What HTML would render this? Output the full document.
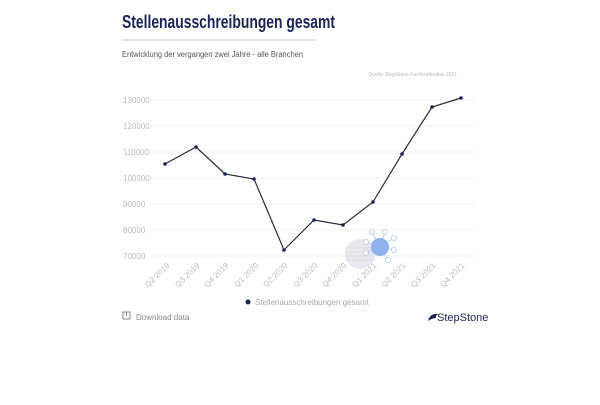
<!DOCTYPE html>
<html><head><style>
body{margin:0;background:#fff;width:600px;height:400px;overflow:hidden;font-family:"Liberation Sans",sans-serif;}
</style></head><body>
<svg width="600" height="400" xmlns="http://www.w3.org/2000/svg" font-family="Liberation Sans, sans-serif">
<text x="122" y="28" font-size="18" font-weight="bold" fill="#1c2457" textLength="213" lengthAdjust="spacingAndGlyphs">Stellenausschreibungen gesamt</text>
<line x1="122" y1="40" x2="315" y2="40" stroke="#aab3cf" stroke-width="0.8"/>
<text x="122" y="57" font-size="8" fill="#555" textLength="181" lengthAdjust="spacingAndGlyphs">Entwicklung der vergangen zwei Jahre - alle Branchen</text>
<text x="457" y="76" font-size="5" fill="#bbb" text-anchor="end">Quelle: StepStone Fachkräfteatlas 2021</text>
<g stroke="#f2f2f2" stroke-width="1">
<line x1="150" y1="100" x2="475" y2="100"/><line x1="150" y1="126" x2="475" y2="126"/>
<line x1="150" y1="152" x2="475" y2="152"/><line x1="150" y1="178" x2="475" y2="178"/>
<line x1="150" y1="204" x2="475" y2="204"/><line x1="150" y1="230" x2="475" y2="230"/>
<line x1="150" y1="256" x2="475" y2="256"/>
</g>
<g font-size="8" fill="#bbb">
<text x="123" y="103">130000</text><text x="123" y="129">120000</text><text x="123" y="155">110000</text>
<text x="123" y="181">100000</text><text x="123" y="207">90000</text><text x="123" y="233">80000</text><text x="123" y="259">70000</text>
</g>
<g>
<circle cx="360" cy="254" r="15" fill="#e8e8ee"/>
<g stroke="#ccd" stroke-width="0.6"><line x1="345" y1="248" x2="375" y2="248"/><line x1="345" y1="252" x2="375" y2="252"/><line x1="345" y1="256" x2="375" y2="256"/><line x1="345" y1="260" x2="375" y2="260"/></g>
<g stroke="#bcd0f0" stroke-width="1" fill="#fff">
<line x1="380" y1="247" x2="372" y2="232"/><circle cx="372" cy="232" r="2.5"/>
<line x1="380" y1="247" x2="385" y2="232"/><circle cx="385" cy="232" r="2.5"/>
<line x1="380" y1="247" x2="394" y2="238"/><circle cx="394" cy="238" r="2.5"/>
<line x1="380" y1="247" x2="394" y2="250"/><circle cx="394" cy="250" r="2.5"/>
<line x1="380" y1="247" x2="388" y2="260"/><circle cx="388" cy="260" r="2.5"/>
<line x1="380" y1="247" x2="366" y2="252"/><circle cx="366" cy="253" r="2.5"/>
<line x1="380" y1="247" x2="366" y2="242"/><circle cx="366" cy="242" r="2.5"/>
</g>
<circle cx="380" cy="247" r="9" fill="#8fb2ef"/>
</g>
<polyline fill="none" stroke="#2a2a3a" stroke-width="1.2" points="165,164 196,147 225,174 254,179 284,250 314,220 343,225 373,202 402,154 432,107 461,98"/>
<g fill="#1c2457">
<circle cx="165" cy="164" r="1.8"/><circle cx="196" cy="147" r="1.8"/><circle cx="225" cy="174" r="1.8"/><circle cx="254" cy="179" r="1.8"/><circle cx="284" cy="250" r="1.8"/><circle cx="314" cy="220" r="1.8"/><circle cx="343" cy="225" r="1.8"/><circle cx="373" cy="202" r="1.8"/><circle cx="402" cy="154" r="1.8"/><circle cx="432" cy="107" r="1.8"/><circle cx="461" cy="98" r="1.8"/>
</g>
<g font-size="8" fill="#bbb" text-anchor="end">
<text transform="translate(170,266) rotate(-45)">Q2 2019</text>
<text transform="translate(200,266) rotate(-45)">Q3 2019</text>
<text transform="translate(229,266) rotate(-45)">Q4 2019</text>
<text transform="translate(259,266) rotate(-45)">Q1 2020</text>
<text transform="translate(288,266) rotate(-45)">Q2 2020</text>
<text transform="translate(318,266) rotate(-45)">Q3 2020</text>
<text transform="translate(347,266) rotate(-45)">Q4 2020</text>
<text transform="translate(377,266) rotate(-45)">Q1 2021</text>
<text transform="translate(406,266) rotate(-45)">Q2 2021</text>
<text transform="translate(436,266) rotate(-45)">Q3 2021</text>
<text transform="translate(465,266) rotate(-45)">Q4 2021</text>
</g>
<circle cx="248" cy="302" r="2.5" fill="#1c2457"/>
<text x="255" y="305" font-size="8" fill="#aaa">Stellenausschreibungen gesamt</text>
<rect x="123" y="312" width="7" height="7" fill="none" stroke="#888" stroke-width="1"/>
<line x1="126.5" y1="312" x2="126.5" y2="316" stroke="#888"/>
<text x="136" y="320" font-size="8" fill="#888">Download data</text>
<path d="M428 321 q2 -8 10 -7 q-3 2 -2 4 q-4 0 -8 3z" fill="#1c2457"/>
<text x="437" y="321" font-size="11" fill="#1c2457">StepStone</text>
</svg>
</body></html>
